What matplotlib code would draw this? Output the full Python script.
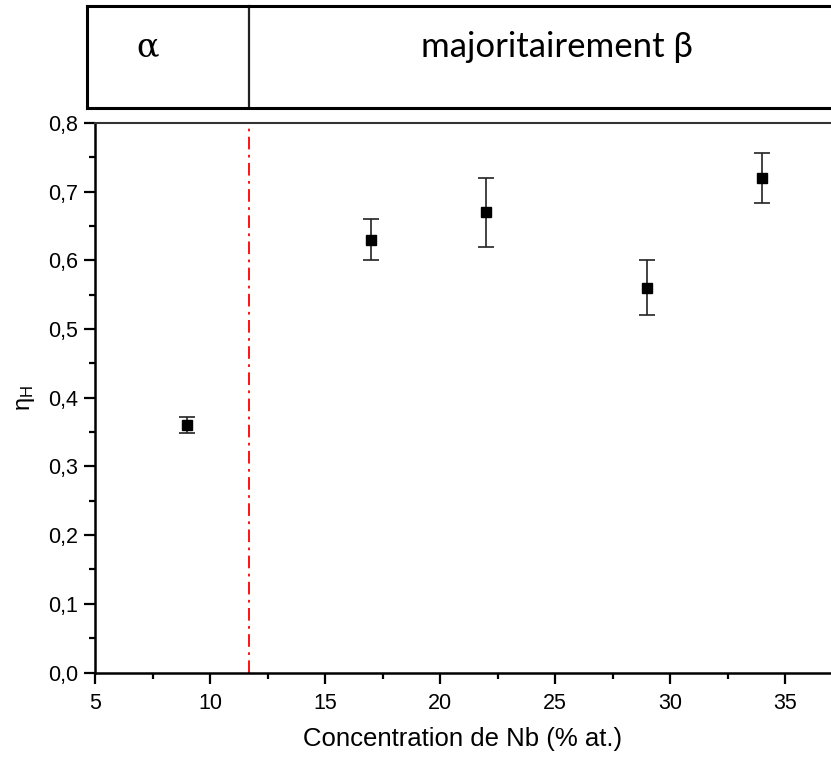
import numpy as np
import matplotlib
matplotlib.use("Agg")
import matplotlib.pyplot as plt
import matplotlib.ticker as mticker
import matplotlib.transforms as mtransforms

# data
nb_conc = [9, 17, 22, 29, 34]
eta_h = [0.36, 0.63, 0.67, 0.56, 0.72]
eta_err = [0.012, 0.03, 0.05, 0.04, 0.036]
phase_limit = 11.7

X_LIM = (5, 37)
Y_LIM = (0.0, 0.8)

plt.rcParams["font.family"] = ["Liberation Sans", "DejaVu Sans"]

W, H = 831, 757
fig = plt.figure(figsize=(W / 100, H / 100), dpi=100)

# main axes (pixel geometry from the reference)
left, right, top, bottom = 95, 831, 123, 672.5
ax = fig.add_axes([left / W, 1 - bottom / H, (right - left) / W, (bottom - top) / H])

ax.errorbar(nb_conc, eta_h, yerr=eta_err, fmt="s", color="black",
            markersize=7.5, ecolor="#222222", elinewidth=1.2,
            capsize=5.5, capthick=1.2, zorder=3)
ax.axvline(phase_limit, color="red", linestyle=(0, (7, 3, 1.5, 3)),
           linewidth=1.3, zorder=2)

ax.set_xlim(*X_LIM)
ax.set_ylim(*Y_LIM)
ax.xaxis.set_major_locator(mticker.MultipleLocator(5))
ax.xaxis.set_minor_locator(mticker.MultipleLocator(2.5))
ax.yaxis.set_major_locator(mticker.MultipleLocator(0.1))
ax.yaxis.set_minor_locator(mticker.MultipleLocator(0.05))
ax.yaxis.set_major_formatter(
    mticker.FuncFormatter(lambda v, p: f"{v:.1f}".replace(".", ",")))

ax.tick_params(axis="both", which="major", direction="out", length=8,
               width=1.6, labelsize=15.5)
ax.tick_params(axis="x", which="major", pad=7)
ax.tick_params(axis="y", which="major", pad=4)
ax.tick_params(axis="both", which="minor", direction="out", length=4.5,
               width=1.6)
ax.tick_params(top=False, right=False)

for side in ("left", "bottom"):
    ax.spines[side].set_linewidth(1.8)
ax.spines["top"].set_linewidth(1.5)
ax.spines["top"].set_color("#333333")
ax.spines["right"].set_visible(False)

ax.set_xlabel("Concentration de Nb (% at.)", fontsize=18.5, labelpad=9)
ax.set_ylabel(r"$\mathregular{\eta_H}$", fontsize=17, labelpad=8)

# phase box above the plot
bx_left, bx_top, bx_bottom = 87, 6, 108
box = fig.add_axes([bx_left / W, 1 - bx_bottom / H,
                    (W + 5 - bx_left) / W, (bx_bottom - bx_top) / H])
box.set_xticks([])
box.set_yticks([])
for s in box.spines.values():
    s.set_linewidth(2.2)
box.spines["right"].set_visible(False)

trans = mtransforms.blended_transform_factory(ax.transData, box.transAxes)
box.plot([phase_limit, phase_limit], [0, 1], color="#222222", linewidth=1.6,
         transform=trans, clip_on=False)
box.text(7.3, 0.6, "\u03b1", transform=trans, fontsize=24, ha="center",
         va="center", family=["DejaVu Serif"])
box.text(25.1, 0.6, "majoritairement \u03b2", transform=trans, fontsize=25,
         ha="center", va="center", family=["Lato", "DejaVu Sans"])

fig.savefig("out.png", dpi=100)
